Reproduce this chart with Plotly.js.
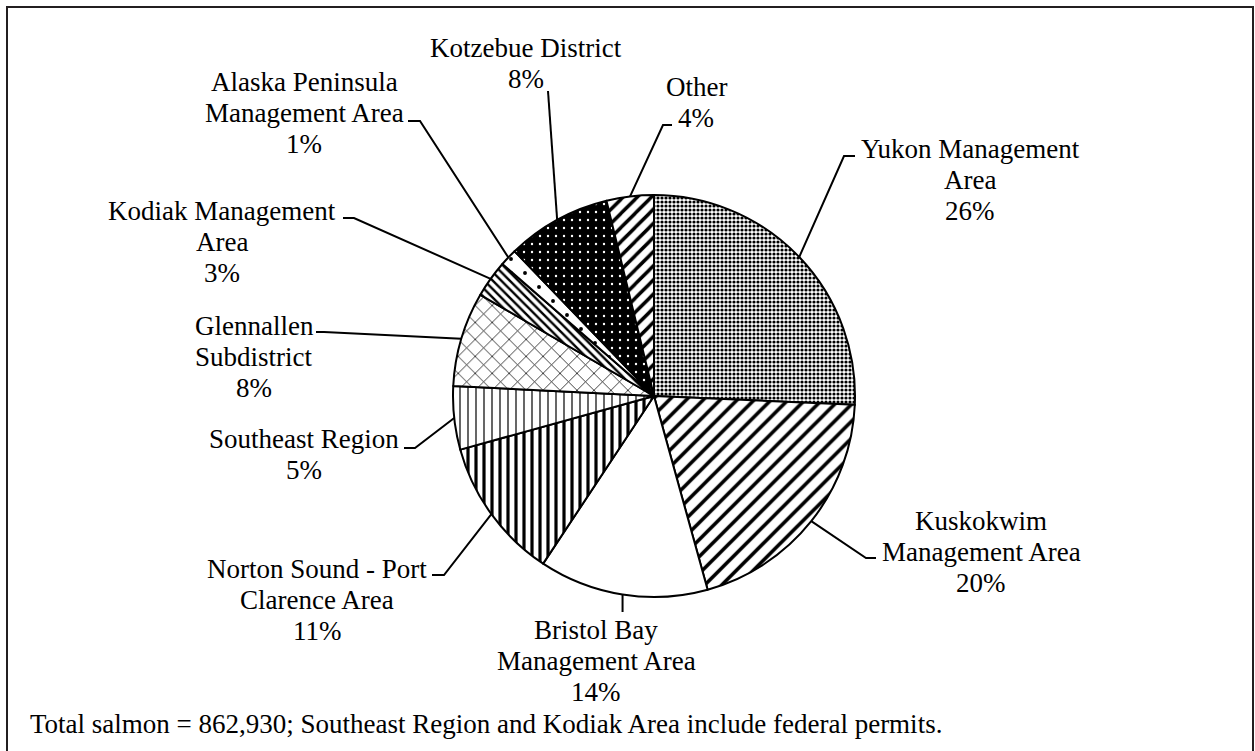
<!DOCTYPE html>
<html>
<head>
<meta charset="utf-8">
<script src="https://cdn.plot.ly/plotly-3.0.1.min.js"></script>
<style>html,body{margin:0;padding:0;background:#fff;}#chart{width:1255px;height:751px;}</style>
</head>
<body>
<div id="chart"></div>
<script>
// ---- data ----
const categories = ["Yukon Management Area","Kuskokwim Management Area","Bristol Bay Management Area","Norton Sound - Port Clarence Area","Southeast Region","Glennallen Subdistrict","Kodiak Management Area","Alaska Peninsula Management Area","Kotzebue District","Other"];
const shares = [25.7, 20.0, 13.6, 11.4, 5.1, 7.6, 3.0, 1.4, 8.4, 3.8];
const labelLines = [["Yukon Management","Area"],["Kuskokwim","Management Area"],["Bristol Bay","Management Area"],["Norton Sound - Port","Clarence Area"],["Southeast Region"],["Glennallen","Subdistrict"],["Kodiak Management","Area"],["Alaska Peninsula","Management Area"],["Kotzebue District"],["Other"]];
const footnote = "Total salmon = 862,930; Southeast Region and Kodiak Area include federal permits.";

// ---- styles / layout ----
const W = 1255, H = 751;
const CX = 654, CY = 396, R = 201;
const patShape = [".", "/", "", "|", "|", "x", "\\", ".", ".", "/"];
const patSize = [4, 12, 8, 8, 8, 12, 6, 14, 8, 10];
const patSolid = [0.5, 0.3, 0.3, 0.4, 0.15, 0.12, 0.4, 0.06, 0.07, 0.35];
const patFg = ["#000","#000","#000","#000","#000","#000","#000","#000","#fff","#000"];
const patBg = ["#fff","#fff","#fff","#fff","#fff","#fff","#fff","#fff","#000","#fff"];
const labelCx = [970, 981, 596, 317, 304, 254, 222, 304, 526, 696];
const labelY0 = [149, 521, 630, 569, 439, 326, 211, 82, 48, 87];
const lineGap = 31;
const elbows = [[[844,156],[855,156]],[[866,558],[876,558]],[[null,612]],[[444,575],[432,575]],[[415,448],[404,448]],[[324,332],[316,332]],[[354,218],[343,218]],[[420,121],[408,121]],[[548,91]],[[663,125],[672,125]]];
const FONT = "Liberation Serif";
const FS = 27;

const px = x => x / W;
const py = y => 1 - y / H;

const total = shares.reduce((a,b)=>a+b,0);
const annotations = [];
const shapes = [];
let cum = 0;
shares.forEach((v, i) => {
  const mid = (cum + v/2) / total * 2 * Math.PI;
  cum += v;
  const ex = CX + R * Math.sin(mid);
  const ey = CY - R * Math.cos(mid);
  const lines = labelLines[i].concat([Math.round(v/total*100) + "%"]);
  lines.forEach((t, k) => {
    annotations.push({text: t, x: px(labelCx[i]), y: py(labelY0[i] + k*lineGap), xref: "paper", yref: "paper",
      xanchor: "center", yanchor: "middle", showarrow: false, font: {family: FONT, size: FS, color: "#000"}});
  });
  let d = "M" + px(ex) + "," + py(ey);
  elbows[i].forEach(p => {
    const xx = p[0] === null ? ex : p[0];
    d += " L" + px(xx) + "," + py(p[1]);
  });
  shapes.push({type: "path", path: d, xref: "paper", yref: "paper", line: {color: "#000", width: 2}});
});
annotations.push({text: footnote, x: px(28), y: py(724), xref: "paper", yref: "paper", xanchor: "left", yanchor: "middle",
  showarrow: false, font: {family: FONT, size: FS, color: "#000"}});
shapes.push({type: "rect", xref: "paper", yref: "paper", x0: px(7), x1: px(1253), y0: -0.1, y1: py(7), line: {color: "#231f20", width: 2}});

const trace = {
  type: "pie", labels: categories, values: shares, sort: false, direction: "clockwise", rotation: 0,
  textinfo: "none", hoverinfo: "label+percent", showlegend: false,
  domain: {x: [px(CX - R), px(CX + R)], y: [py(CY + R), py(CY - R)]},
  marker: {colors: patBg, line: {color: "#000", width: 2},
    pattern: {shape: patShape, size: patSize, solidity: patSolid, fgcolor: patFg, bgcolor: patBg, fillmode: "replace"}}
};
const layout = {width: W, height: H, margin: {l:0, r:0, t:0, b:0}, paper_bgcolor: "#fff", plot_bgcolor: "#fff",
  font: {family: FONT}, showlegend: false, annotations: annotations, shapes: shapes};
Plotly.newPlot("chart", [trace], layout, {displayModeBar: false, staticPlot: true});
</script>
</body>
</html>
